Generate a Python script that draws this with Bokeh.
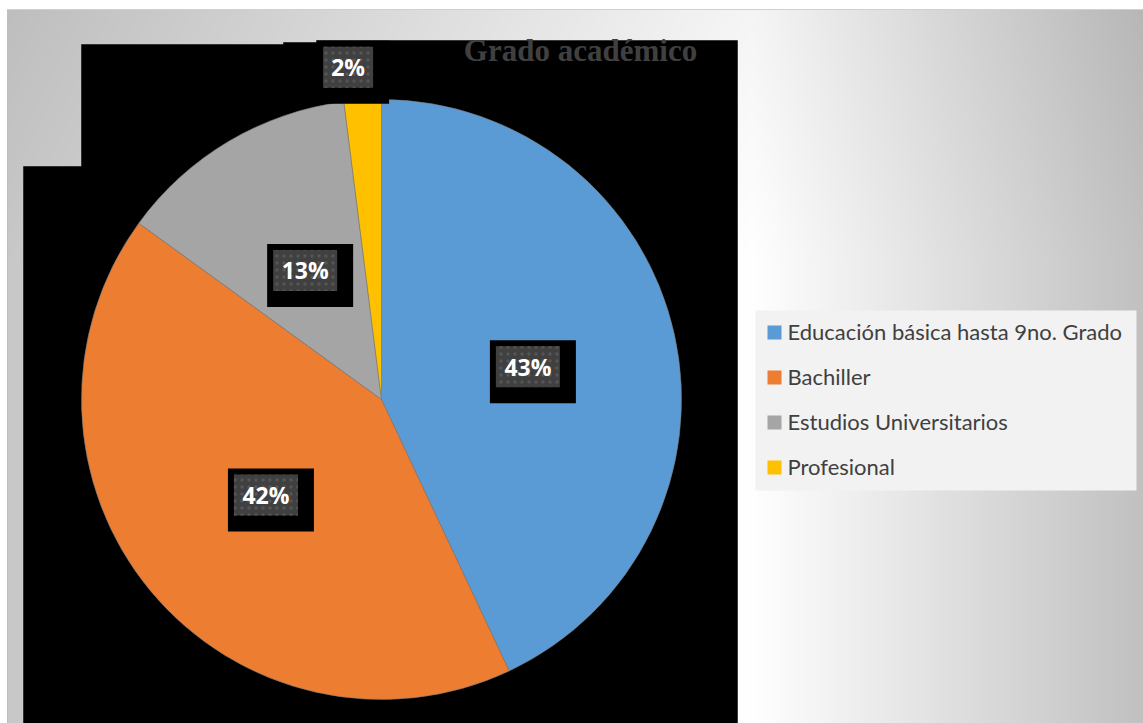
import numpy as np
from bokeh.plotting import figure
from bokeh.models import Range1d
from bokeh.core.properties import value
from bokeh.embed import file_html
from bokeh.resources import INLINE

# ---------------- data ----------------
title = "Grado académico"
categories = ["Educación básica hasta 9no. Grado", "Bachiller",
              "Estudios Universitarios", "Profesional"]
percent = [43, 42, 13, 2]
colors = ["#5b9bd5", "#ed7d31", "#a5a5a5", "#ffc000"]

# ---------------- layout ----------------
W, H = 1143, 723


def Y(y):
    return H - y


p = figure(width=W, height=H, x_range=Range1d(0, W), y_range=Range1d(0, H),
           output_backend="svg", toolbar_location=None, min_border=0)
p.axis.visible = False
p.grid.visible = False
p.outline_line_color = None
p.background_fill_color = "white"
p.border_fill_color = "white"

# background gradient
x0, y0 = 7, 9
nx, ny = 572, 358
xs = np.linspace(x0, W, nx)
ys = np.linspace(H, y0, ny)          # row 0 = bottom of the picture
XX, YY = np.meshgrid(xs, ys)
ridge = 752
v = np.where(XX < ridge,
             200 + 55 * (XX - x0) / (ridge - x0),
             255 - 62 * (XX - ridge) / (W - ridge))
v = v - 10 * np.clip(1 - YY / 260, 0, 1)
v = np.clip(v, 0, 255).astype(np.uint8)
img = np.empty((ny, nx), dtype=np.uint32)
view = img.view(dtype=np.uint8).reshape((ny, nx, 4))
view[..., 0] = v
view[..., 1] = v
view[..., 2] = v
view[..., 3] = 255
p.image_rgba(image=[img], x=x0, y=0, dw=W - x0, dh=H - y0)

p.line([x0, x0], [0, Y(y0)], line_color="#bdbdbd", line_width=1)
p.line([x0, W], [Y(y0), Y(y0)], line_color="#d0d0d0", line_width=1)

# black plot-area artefact (one polygon, no seams); pixel coords, y down
bx = [23, 23, 81, 81, 283, 283, 316, 316, 737, 737]
by = [723, 166, 166, 44, 44, 42, 42, 40, 40, 723]
p.patch(x=bx, y=[Y(t) for t in by], fill_color="black", line_color="black",
        line_width=0.5)

# title
p.text(x=[580], y=[Y(50)], text=[title], text_align="center",
       text_baseline="alphabetic", text_font=value("Liberation Serif"),
       text_font_style="bold", text_font_size="31px", text_color="#404040")

# pie
cx, cy, R = 381, 399, 300
frac = np.array(percent, dtype=float) / sum(percent)
cum = np.concatenate([[0.0], np.cumsum(frac)])
start = np.pi / 2 - 2 * np.pi * cum[:-1]
end = np.pi / 2 - 2 * np.pi * cum[1:]
p.wedge(x=cx, y=Y(cy), radius=R, start_angle=start, end_angle=end,
        direction="clock", fill_color=colors, line_color="#7f7f7f",
        line_width=0.75, line_alpha=0.8)

# data labels
labels = [f"{v_}%" for v_ in percent]
bw = np.array([50 if len(s) == 2 else 64 for s in labels])
bh = 41
mid = (start + end) / 2
outside = frac < 0.05
rf = np.where(outside, 1.11, 0.5)
lx = cx + rf * R * np.cos(mid) + np.where(outside, 0.25 * bw * np.sign(np.cos(mid)), 0)
ly = Y(cy) + rf * R * np.sin(mid)
p.quad(left=lx - bw / 2 - 6, right=lx + bw / 2 + 16,
       top=ly + bh / 2 + 6, bottom=ly - bh / 2 - 16,
       fill_color="black", line_color=None)
p.quad(left=lx - bw / 2, right=lx + bw / 2,
       top=ly + bh / 2, bottom=ly - bh / 2,
       fill_color="#404040", line_color=None,
       hatch_pattern="dot", hatch_color="#555555", hatch_scale=7, hatch_weight=1)
p.text(x=lx, y=ly, text=labels, text_align="center", text_baseline="middle",
       text_font=value("Open Sans"), text_font_style="bold",
       text_font_size="23px", text_color="white")

# legend
p.quad(left=[755], right=[1136], top=[Y(310)], bottom=[Y(490)],
       fill_color="#f2f2f2", line_color=None)
rows = np.array([Y(332 + 45 * i) for i in range(len(categories))])
p.rect(x=774, y=rows, width=14, height=14, fill_color=colors, line_color=None)
p.text(x=787, y=rows + 1, text=categories, text_align="left",
       text_baseline="middle", text_font=value("Lato"),
       text_font_size="22px", text_color="#404040")

open("out.html", "w").write(file_html(p, INLINE))
